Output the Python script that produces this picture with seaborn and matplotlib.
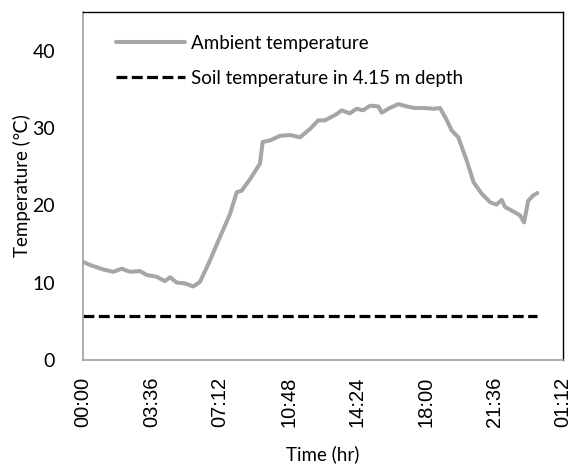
import matplotlib
matplotlib.use("Agg")
import matplotlib.pyplot as plt
import seaborn as sns
import pandas as pd

# Ambient temperature readings (hours since 00:00, °C)
time_hr = [0.0, 0.35, 1.07, 1.59, 2.03, 2.47, 2.99, 3.34, 3.87, 4.30, 4.57, 4.92,
           5.35, 5.79, 6.14, 6.67, 7.19, 7.72, 8.07, 8.33, 8.77, 9.29, 9.43, 9.82,
           10.34, 10.87, 11.39, 11.92, 12.35, 12.7, 13.31, 13.58, 14.0, 14.36, 14.7,
           15.07, 15.5, 15.68, 16.1, 16.55, 17.0, 17.4, 17.86, 18.4, 18.74, 19.1,
           19.35, 19.7, 20.14, 20.5, 20.93, 21.37, 21.7, 21.98, 22.15, 22.59, 22.94,
           23.15, 23.37, 23.64, 23.85]
ambient = [12.7, 12.3, 11.7, 11.4, 11.8, 11.4, 11.5, 11.0, 10.75, 10.2, 10.7, 10.0,
           9.9, 9.5, 10.1, 12.9, 15.9, 18.9, 21.7, 21.9, 23.4, 25.4, 28.2, 28.4,
           29.0, 29.1, 28.8, 29.9, 31.0, 31.0, 31.8, 32.3, 31.9, 32.5, 32.3,
           32.9, 32.8, 32.0, 32.6, 33.1, 32.8, 32.6, 32.6, 32.5, 32.6, 31.0,
           29.7, 28.8, 25.8, 23.0, 21.5, 20.4, 20.1, 20.7, 19.8, 19.2, 18.7,
           17.8, 20.6, 21.3, 21.6]
soil_time = [0.0, 23.85]
soil = [5.7, 5.7]

x_ticks = [0, 3.6, 7.2, 10.8, 14.4, 18.0, 21.6, 25.2]
x_tick_labels = ["00:00", "03:36", "07:12", "10:48", "14:24", "18:00", "21:36", "01:12"]
y_ticks = [0, 10, 20, 30, 40]

sns.set_style("white")
plt.rcParams['font.family'] = ['Lato', 'DejaVu Sans']
plt.rcParams['text.color'] = 'black'
plt.rcParams['axes.labelcolor'] = 'black'
plt.rcParams['xtick.color'] = 'black'
plt.rcParams['ytick.color'] = 'black'

fig = plt.figure(figsize=(5.74, 4.68), dpi=100)
ax = fig.add_axes([0.1446, 0.231, 0.8364, 0.743])

df_amb = pd.DataFrame({"t": time_hr, "T": ambient})
df_soil = pd.DataFrame({"t": soil_time, "T": soil})

sns.lineplot(data=df_amb, x="t", y="T", ax=ax, color="#A6A6A6", linewidth=2.9,
             label="Ambient temperature")
sns.lineplot(data=df_soil, x="t", y="T", ax=ax, color="black", linewidth=2.3,
             label="Soil temperature in 4.15 m depth")
ax.lines[1].set_dashes([3.4, 1.4])

ax.set_xlim(0, 25.2)
ax.set_ylim(0, 45)
ax.set_xticks(x_ticks)
ax.set_xticklabels(x_tick_labels, rotation=90, fontsize=14.5,
                   family=['Liberation Sans', 'DejaVu Sans'])
ax.set_yticks(y_ticks)
ax.set_yticklabels([str(v) for v in y_ticks], fontsize=14)
ax.tick_params(axis="both", length=0)
ax.tick_params(axis="y", pad=20)
ax.tick_params(axis="x", pad=12)
ax.set_xlabel("Time (hr)", fontsize=13.5, labelpad=13)
ax.set_ylabel("Temperature (\u2103)", fontsize=13.5, labelpad=1)

for s in ["left", "bottom"]:
    ax.spines[s].set_color("#A0A0A0")
    ax.spines[s].set_linewidth(1.2)
for s in ["top", "right"]:
    ax.spines[s].set_color("black")
    ax.spines[s].set_linewidth(1.0)

leg = ax.legend(loc="upper left", frameon=False, fontsize=13.5, handlelength=3.7,
                handletextpad=0.3, borderaxespad=0.9, labelspacing=0.95,
                bbox_to_anchor=(0.018, 1.005))

fig.savefig("out.png", dpi=100)
